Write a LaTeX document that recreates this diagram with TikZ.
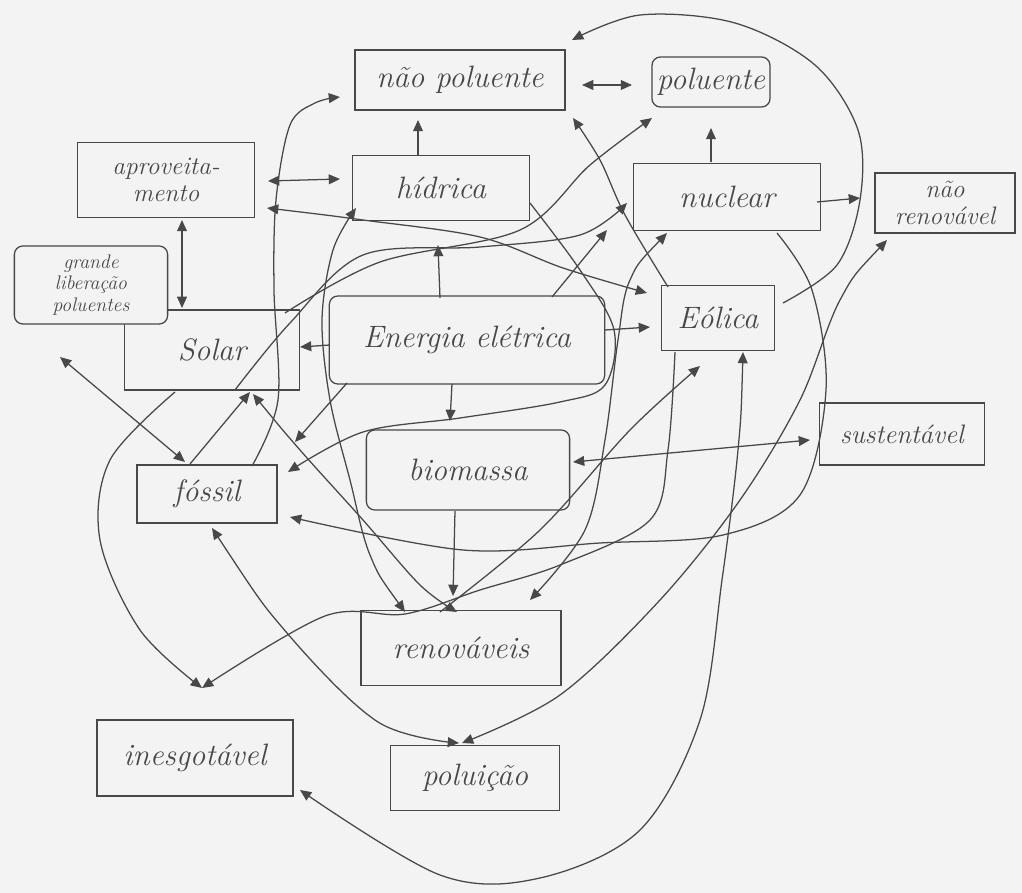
\documentclass[tikz,border=0pt]{standalone}
\usepackage{fontspec}
\usetikzlibrary{arrows.meta,calc}
\definecolor{paper}{RGB}{243,243,243}
\definecolor{ink}{RGB}{72,72,72}
\begin{document}
\begin{tikzpicture}[x=0.025cm,y=-0.025cm,
  box/.style={draw=ink, line width=0.9pt, align=center, text=ink,
    font=\fontsize{22}{24}\selectfont\itshape, inner sep=2pt},
  rbox/.style={box, rounded corners=6pt},
  tip/.tip={Triangle[length=8pt,width=7pt]},
  link/.style={draw=ink, line width=0.9pt, -tip},
  both/.style={draw=ink, line width=0.9pt, tip-tip},
  softcurve/.style={smooth, tension=0.55}
]
% paper
\fill[paper] (0,0) rectangle (1022,893);
\useasboundingbox (0,0) rectangle (1022,893);

% concept boxes
\node[box, minimum width=5.25cm, minimum height=1.5cm]  (np)   at (460,80)  {não poluente};
\node[rbox, minimum width=2.95cm, minimum height=1.25cm] (pol)  at (711,82)  {poluente};
\node[box, minimum width=4.43cm, minimum height=1.88cm, font=\fontsize{18}{19}\selectfont\itshape] (apr) at (166,180) {aproveita-\\mento};
\node[box, minimum width=4.43cm, minimum height=1.63cm] (hid)  at (441,188) {hídrica};
\node[box, minimum width=4.68cm, minimum height=1.68cm] (nuc)  at (727,197) {nuclear};
\node[box, minimum width=3.5cm, minimum height=1.5cm, font=\fontsize{18}{19}\selectfont\itshape] (nren) at (945,203) {não\\renovável};
\node[box, minimum width=4.38cm, minimum height=2.0cm]  (sol)  at (212,350) {Solar};
\node[rbox, fill=paper, minimum width=3.83cm, minimum height=1.95cm, font=\fontsize{14}{15}\selectfont\itshape] (glp) at (91,285) {grande\\liberação\\poluentes};
\node[rbox, minimum width=6.88cm, minimum height=2.2cm]  (ene)  at (467,340) {Energia elétrica};
\node[box, minimum width=2.83cm, minimum height=1.63cm] (eol)  at (718,318) {Eólica};
\node[box, minimum width=4.13cm, minimum height=1.55cm, font=\fontsize{19}{20}\selectfont\itshape] (sus) at (902,434) {sustentável};
\node[rbox, minimum width=5.08cm, minimum height=2.0cm]  (bio)  at (468,470) {biomassa};
\node[box, minimum width=3.5cm, minimum height=1.45cm]  (fos)  at (207,494) {fóssil};
\node[box, minimum width=5.0cm, minimum height=1.88cm]  (ren)  at (461,648) {renováveis};
\node[box, minimum width=4.9cm, minimum height=1.9cm]   (ine)  at (195,758) {inesgotável};
\node[box, minimum width=4.23cm, minimum height=1.63cm] (plc)  at (475,778) {poluição};

% short straight links
\draw[both] ($(np)+(122,5)$) -- ($(pol)+(-79,3)$);
\draw[link] ($(hid)+(-23,-33)$) -- ($(np)+(-42,40)$);
\draw[link] ($(nuc)+(-16,-35)$) -- ($(pol)+(0,46)$);
\draw[both] ($(apr)+(102,1)$) -- ($(hid)+(-101,-9)$);
\draw[both] ($(apr)+(16,40)$) -- ($(sol)+(-30,-42)$);
\draw[link] ($(ene)+(-137,5)$) -- ($(sol)+(88,-3)$);
\draw[link] ($(ene)+(-27,-42)$) -- ($(hid)+(-3,57)$);
\draw[link] ($(ene)+(138,-10)$) -- ($(eol)+(-68,9)$);
\draw[link] ($(ene)+(-15,44)$) -- ($(bio)+(-18,-49)$);
\draw[link] ($(ene)+(85,-43)$) -- ($(nuc)+(-120,33)$);
\draw[link] ($(ene)+(-120,43)$) -- ($(fos)+(88,-52)$);
\draw[link] ($(bio)+(-13,41)$) -- ($(ren)+(-8,-52)$);
\draw[both] ($(glp)+(-31,72)$) -- ($(fos)+(-22,-32)$);
\draw[link] ($(fos)+(-17,-30)$) -- ($(sol)+(38,42)$);
\draw[link] ($(nuc)+(90,5)$) -- ($(nren)+(-85,-5)$);
\draw[both] ($(sus)+(-92,6)$) -- ($(bio)+(105,-8)$);

% long curved links
\draw[link] plot[softcurve] coordinates {($(sol)+(-37,42)$) (110,460) (100,540) (140,630) ($(ine)+(7,-70)$)};
\draw[link] plot[softcurve] coordinates {($(nuc)+(50,36)$) (812,290) (826,390) (800,495) (723,535) (600,543) (463,550) ($(fos)+(83,23)$)};
\draw[link] plot[softcurve] coordinates {($(eol)+(-43,34)$) (668,450) (650,520) (560,565) (480,590) (405,614) (325,616) ($(ine)+(7,-70)$)};
\draw[both] plot[softcurve] coordinates {($(eol)+(25,34)$) (738,450) (722,580) (700,720) (640,830) (540,878) (440,875) ($(ine)+(105,32)$)};
\draw[both] plot[softcurve] coordinates {($(fos)+(5,34)$) (287,633) (378,722) ($(plc)+(-16,-35)$)};
\draw[both] plot[softcurve] coordinates {($(nren)+(-58,37)$) (840,300) (800,400) (740,500) (660,600) (560,695) ($(plc)+(-13,-35)$)};
\draw[link] plot[softcurve] coordinates {($(eol)+(-50,-31)$) (625,215) (600,160) ($(np)+(113,38)$)};
\draw[link] plot[softcurve] coordinates {($(eol)+(65,-15)$) (837,265) (860,200) (858,130) (815,65) (735,23) (640,15) ($(np)+(112,-40)$)};
\draw[both] plot[softcurve] coordinates {($(apr)+(101,28)$) (363,220) (480,237) (563,268) ($(eol)+(-71,-25)$)};
\draw[link] plot[softcurve] coordinates {($(fos)+(45,-28)$) (278,400) (274,290) (276,200) (290,125) (315,103) ($(np)+(-120,17)$)};
\draw[both] plot[softcurve] coordinates {($(ren)+(-56,-36)$) (370,555) (350,480) (330,400) (322,320) (333,250) ($(hid)+(-85,20)$)};
\draw[both] plot[softcurve] coordinates {($(sol)+(41,44)$) (300,450) (363,520) (420,585) ($(ren)+(-4,-36)$)};
\draw[link] plot[softcurve] coordinates {($(ren)+(-21,-36)$) (540,530) (630,430) ($(eol)+(-18,48)$)};
\draw[both] plot[softcurve] coordinates {($(nuc)+(-60,36)$) (630,280) (618,340) (605,440) (585,530) ($(ren)+(69,-48)$)};
\draw[link] plot[softcurve] coordinates {($(hid)+(89,15)$) (580,270) (614,330) (605,385) (560,402) (460,418) (363,432) ($(fos)+(81,-22)$)};
\draw[link] plot[softcurve] coordinates {($(sol)+(23,40)$) (290,323) (363,255) (480,247) (580,235) ($(nuc)+(-100,6)$)};
\draw[link] plot[softcurve] coordinates {($(sol)+(73,-37)$) (380,262) (520,230) (590,165) ($(pol)+(-59,36)$)};
\end{tikzpicture}
\end{document}
